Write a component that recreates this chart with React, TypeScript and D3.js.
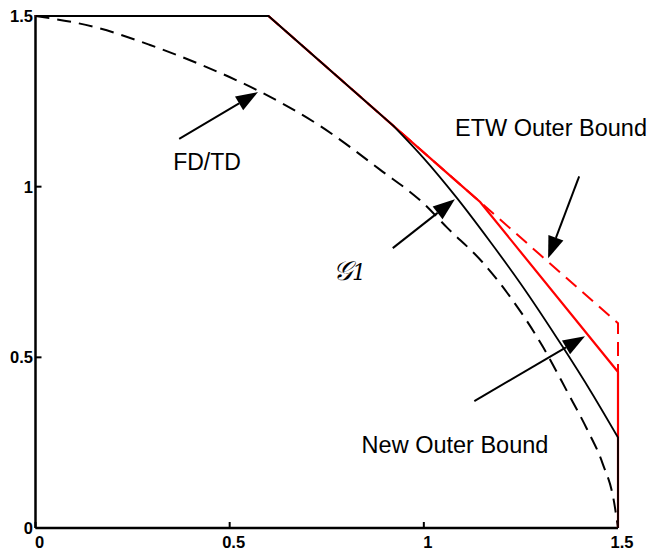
import React from "react";
import * as d3 from "d3";

const fdtdX = [0, 0.158, 0.295, 0.431, 0.57, 0.73, 0.887, 1.0, 1.06, 1.15, 1.214, 1.307, 1.369, 1.42, 1.46, 1.49, 1.5];
const fdtdY = [1.5, 1.466, 1.415, 1.355, 1.283, 1.18, 1.05, 0.95, 0.88, 0.78, 0.69, 0.53, 0.4, 0.29, 0.19, 0.075, 0];

// G1: straight part then curved part then vertical drop
const g1StraightX = [0, 0.6, 0.921];
const g1StraightY = [1.5, 1.5, 1.179];
const g1CurveX = [0.921, 1.0, 1.085, 1.17, 1.248, 1.358, 1.43, 1.5];
const g1CurveY = [1.179, 1.083, 0.967, 0.84, 0.718, 0.53, 0.4, 0.265];

const newX = [0, 0.6, 1.08, 1.145, 1.5, 1.5];
const newY = [1.5, 1.5, 1.02, 0.955, 0.457, 0];

const etwX = [0.6, 1.5, 1.5];
const etwY = [1.5, 0.6, 0.457];

const xTicks = [0, 0.5, 1, 1.5];
const yTicks = [0, 0.5, 1, 1.5];
const xTickLabels = ["0", "0.5", "1", "1.5"];
const yTickLabels = ["0", "0.5", "1", "1.5"];

const annLabels = ["FD/TD", "\u{1D4A2}", "ETW Outer Bound", "New Outer Bound"];
const annFrom = [[0.37, 1.14], [0.92, 0.82], [1.4, 1.03], [1.13, 0.372]];
const annTo = [[0.573, 1.277], [1.08, 0.963], [1.32, 0.79], [1.415, 0.562]];

export default function App() {
  const W = 649, H = 550;
  const x = d3.scaleLinear().domain([0, 1.5]).range([35.5, 618]);
  const y = d3.scaleLinear().domain([0, 1.5]).range([528, 16]);
  const line = d3.line<[number, number]>().x(d => x(d[0])).y(d => y(d[1]));
  const smooth = d3.line<[number, number]>().x(d => x(d[0])).y(d => y(d[1])).curve(d3.curveMonotoneX);
  const pts = (xs: number[], ys: number[]) => xs.map((v, i) => [v, ys[i]] as [number, number]);

  const g1Path =
    (line(pts(g1StraightX, g1StraightY)) || "") +
    (smooth(pts(g1CurveX, g1CurveY)) || "").replace(/^M/, "L") +
    `L${x(1.5)},${y(0)}`;

  const arrow = (f: number[], t: number[], key: number) => {
    const x1 = x(f[0]), y1 = y(f[1]), x2 = x(t[0]), y2 = y(t[1]);
    const ang = Math.atan2(y2 - y1, x2 - x1);
    const L = 22, Wd = 8;
    const bx = x2 - L * Math.cos(ang), by = y2 - L * Math.sin(ang);
    const px = -Math.sin(ang) * Wd, py = Math.cos(ang) * Wd;
    return (
      <g key={key}>
        <line x1={x1} y1={y1} x2={bx} y2={by} stroke="#000" strokeWidth={2} />
        <path d={`M${x2},${y2}L${bx + px},${by + py}L${bx - px},${by - py}Z`} fill="#000" />
      </g>
    );
  };

  const sans = "Liberation Sans, Arial, sans-serif";

  return (
    <svg width={W} height={H} style={{ position: "absolute", left: 0, top: 0, background: "#fff" }}>
      <rect width={W} height={H} fill="#fff" />
      <line x1={x(0)} y1={y(1.5) - 1} x2={x(0)} y2={y(0)} stroke="#000" strokeWidth={2.5} />
      <line x1={x(0)} y1={y(0)} x2={x(1.5)} y2={y(0)} stroke="#000" strokeWidth={2.5} />
      {xTicks.map((t, i) => (
        <g key={"xt" + i}>
          <line x1={x(t)} x2={x(t)} y1={y(0)} y2={y(0) - 6} stroke="#000" strokeWidth={2} />
          <text x={x(t) + 4} y={548} textAnchor="middle" fontFamily={sans} fontWeight="bold" fontSize={16.5}>{xTickLabels[i]}</text>
        </g>
      ))}
      {yTicks.map((t, i) => (
        <g key={"yt" + i}>
          <line x1={x(0)} x2={x(0) + 6} y1={y(t)} y2={y(t)} stroke="#000" strokeWidth={2} />
          <text x={33} y={y(t) + 6} textAnchor="end" fontFamily={sans} fontWeight="bold" fontSize={16.5}>{yTickLabels[i]}</text>
        </g>
      ))}
      <path d={smooth(pts(fdtdX, fdtdY)) || ""} fill="none" stroke="#000" strokeWidth={2} strokeDasharray="14,8" />
      <path d={line(pts(etwX, etwY)) || ""} fill="none" stroke="#ff0000" strokeWidth={2} strokeDasharray="14,8" />
      <path d={line(pts(newX, newY)) || ""} fill="none" stroke="#ff0000" strokeWidth={2.2} />
      <path d={g1Path} fill="none" stroke="#000" strokeWidth={1.8} />
      {annFrom.map((f, i) => arrow(f, annTo[i], i))}
      <text x={207} y={170} textAnchor="middle" fontFamily={sans} fontSize={23}>{annLabels[0]}</text>
      <text x={333} y={280} fontFamily="DejaVu Serif, serif" fontStyle="italic" fontSize={27}>
        {annLabels[1]}<tspan fontSize={22}>1</tspan>
      </text>
      <text x={551} y={136} textAnchor="middle" fontFamily={sans} fontSize={23.5}>{annLabels[2]}</text>
      <text x={455} y={453} textAnchor="middle" fontFamily={sans} fontSize={23.5}>{annLabels[3]}</text>
    </svg>
  );
}
